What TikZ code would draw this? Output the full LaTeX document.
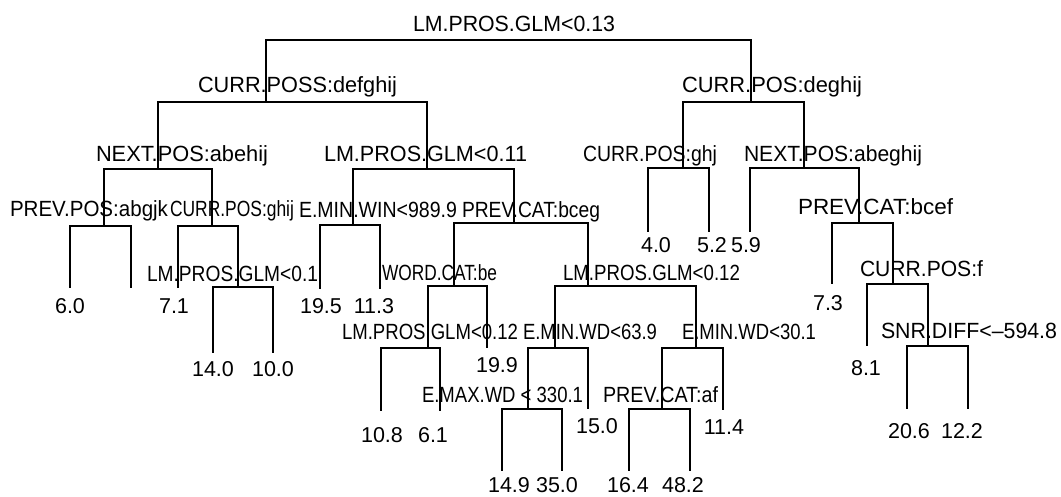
\documentclass[tikz,border=0pt]{standalone}
\usepackage{fontspec}
\setmainfont{Liberation Sans}
\usepackage{graphicx}
\newcommand\treelab[2]{\resizebox{#1pt}{\height}{\fontsize{22}{26}\selectfont #2}}
\begin{document}
\begin{tikzpicture}[x=1pt,y=-1pt,
  br/.style={line width=1.3pt, line cap=rect},
  lab/.style={anchor=base west, inner sep=0pt, outer sep=0pt},
  num/.style={anchor=base, inner sep=0pt, outer sep=0pt, font=\fontsize{21.5}{26}\selectfont}]
\useasboundingbox[fill=white] (0,0) rectangle (1061,497);
% internal split points (x, bar y)
\coordinate (root) at (508,40);
\coordinate (A) at (266,102);
\coordinate (P) at (751,102);
\coordinate (B) at (158,169);
\coordinate (C) at (427,169);
\coordinate (Q) at (683,168);
\coordinate (R) at (804,168);
\coordinate (D) at (104,226);
\coordinate (E) at (212,226);
\coordinate (G) at (353,225);
\coordinate (H) at (514,223);
\coordinate (S) at (859,223);
\coordinate (F) at (238,287);
\coordinate (I) at (454,286);
\coordinate (K) at (588,286);
\coordinate (T) at (893,284);
\coordinate (J) at (428,348);
\coordinate (L) at (555,348);
\coordinate (N) at (696,348);
\coordinate (U) at (928,346);
\coordinate (M) at (528,409);
\coordinate (O) at (662,409);
% leaves (x, bottom y)
\coordinate (l1) at (70,287);
\coordinate (l2) at (131,287);
\coordinate (l3) at (178,287);
\coordinate (l4) at (213,352);
\coordinate (l5) at (273,352);
\coordinate (l6) at (320,288);
\coordinate (l7) at (380,288);
\coordinate (l8) at (381,410);
\coordinate (l9) at (440,410);
\coordinate (l10) at (487,347);
\coordinate (l11) at (502,470);
\coordinate (l12) at (562,470);
\coordinate (l13) at (588,408);
\coordinate (l14) at (629,470);
\coordinate (l15) at (690,470);
\coordinate (l16) at (723,409);
\coordinate (l17) at (648,231);
\coordinate (l18) at (709,231);
\coordinate (l19) at (750,231);
\coordinate (l20) at (832,283);
\coordinate (l21) at (867,345);
\coordinate (l22) at (907,408);
\coordinate (l23) at (968,408);
% branches
\draw[br] (A) |- (root) -| (P);
\draw[br] (B) |- (A) -| (C);
\draw[br] (Q) |- (P) -| (R);
\draw[br] (D) |- (B) -| (E);
\draw[br] (G) |- (C) -| (H);
\draw[br] (l17) |- (Q) -| (l18);
\draw[br] (l19) |- (R) -| (S);
\draw[br] (l1) |- (D) -| (l2);
\draw[br] (l3) |- (E) -| (F);
\draw[br] (l4) |- (F) -| (l5);
\draw[br] (l6) |- (G) -| (l7);
\draw[br] (I) |- (H) -| (K);
\draw[br] (J) |- (I) -| (l10);
\draw[br] (l8) |- (J) -| (l9);
\draw[br] (L) |- (K) -| (N);
\draw[br] (M) |- (L) -| (l13);
\draw[br] (l11) |- (M) -| (l12);
\draw[br] (O) |- (N) -| (l16);
\draw[br] (l14) |- (O) -| (l15);
\draw[br] (l20) |- (S) -| (T);
\draw[br] (l21) |- (T) -| (U);
\draw[br] (l22) |- (U) -| (l23);
% split labels
\node[lab] (troot) at (413,32) {\treelab{202}{LM.PROS.GLM<0.13}};
\node[lab] (tA) at (198,93) {\treelab{199}{CURR.POSS:defghij}};
\node[lab] (tP) at (682,93) {\treelab{180}{CURR.POS:deghij}};
\node[lab] (tB) at (96,162) {\treelab{172}{NEXT.POS:abehij}};
\node[lab] (tC) at (324,162) {\treelab{203}{LM.PROS.GLM<0.11}};
\node[lab] (tQ) at (583,162) {\treelab{134}{CURR.POS:ghj}};
\node[lab] (tR) at (744,162) {\treelab{178}{NEXT.POS:abeghij}};
\node[lab] (tD) at (10,217) {\treelab{158}{PREV.POS:abgjk}};
\node[lab] (tE) at (170,217) {\treelab{124}{CURR.POS:ghij}};
\node[lab] (tG) at (299,218) {\treelab{158}{E.MIN.WIN<989.9}};
\node[lab] (tH) at (462,218) {\treelab{138}{PREV.CAT:bceg}};
\node[lab] (tS) at (798,215) {\treelab{155}{PREV.CAT:bcef}};
\node[lab] (tF) at (147,282) {\treelab{171}{LM.PROS.GLM<0.1}};
\node[lab] (tI) at (382,280) {\treelab{115}{WORD.CAT:be}};
\node[lab] (tK) at (563,280) {\treelab{177}{LM.PROS.GLM<0.12}};
\node[lab] (tT) at (860,277) {\treelab{123}{CURR.POS:f}};
\node[lab] (tJ) at (342,340) {\treelab{176}{LM.PROS.GLM<0.12}};
\node[lab] (tL) at (523,340) {\treelab{134}{E.MIN.WD<63.9}};
\node[lab] (tN) at (682,340) {\treelab{134}{E.MIN.WD<30.1}};
\node[lab] (tU) at (881,338) {\treelab{176}{SNR.DIFF<–594.8}};
\node[lab] (tM) at (422,402) {\treelab{161}{E.MAX.WD < 330.1}};
\node[lab] (tO) at (603,402) {\treelab{115}{PREV.CAT:af}};
% leaf values
\node[num] (n1) at (70,313) {6.0};
\node[num] (n3) at (174,313) {7.1};
\node[num] (n4) at (213,376) {14.0};
\node[num] (n5) at (273,376) {10.0};
\node[num] (n6) at (321,313) {19.5};
\node[num] (n7) at (374,313) {11.3};
\node[num] (n8) at (382,442) {10.8};
\node[num] (n9) at (433,442) {6.1};
\node[num] (n10) at (497,372) {19.9};
\node[num] (n11) at (509,492) {14.9};
\node[num] (n12) at (557,492) {35.0};
\node[num] (n13) at (597,433) {15.0};
\node[num] (n14) at (628,492) {16.4};
\node[num] (n15) at (683,492) {48.2};
\node[num] (n16) at (724,434) {11.4};
\node[num] (n17) at (656,253) {4.0};
\node[num] (n18) at (712,253) {5.2};
\node[num] (n19) at (746,253) {5.9};
\node[num] (n20) at (828,310) {7.3};
\node[num] (n21) at (866,375) {8.1};
\node[num] (n22) at (909,438) {20.6};
\node[num] (n23) at (962,438) {12.2};
\end{tikzpicture}
\end{document}
